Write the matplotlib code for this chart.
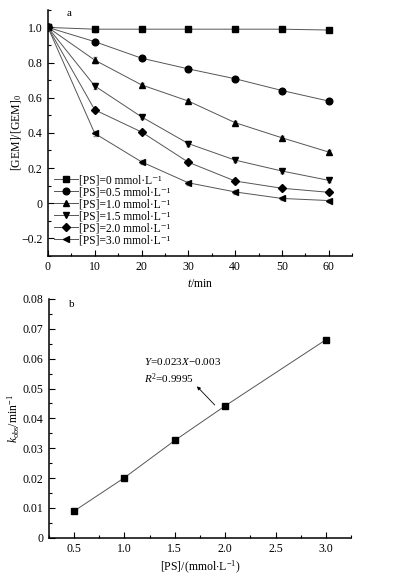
import numpy as np
import matplotlib
matplotlib.use("Agg")
import matplotlib.pyplot as plt
from matplotlib.ticker import MultipleLocator

plt.rcParams['font.family'] = ['Liberation Serif', 'DejaVu Serif']
plt.rcParams['mathtext.fontset'] = 'custom'
plt.rcParams['mathtext.rm'] = 'Liberation Serif'
plt.rcParams['mathtext.it'] = 'Liberation Serif:italic'
plt.rcParams['font.size'] = 7.5

# ---- panel a: degradation curves ----
t_min = [0, 10, 20, 30, 40, 50, 60]
ps_labels = ['0', '0.5', '1.0', '1.5', '2.0', '3.0']
ps_markers = ['s', 'o', '^', 'v', 'D', '<']
gem_0 = [1.0, 0.99, 0.99, 0.99, 0.99, 0.99, 0.985]
gem_05 = [1.0, 0.919, 0.825, 0.764, 0.708, 0.641, 0.581]
gem_10 = [1.0, 0.814, 0.673, 0.581, 0.458, 0.372, 0.291]
gem_15 = [1.0, 0.667, 0.491, 0.339, 0.245, 0.183, 0.130]
gem_20 = [1.0, 0.531, 0.405, 0.233, 0.126, 0.085, 0.062]
gem_30 = [1.0, 0.397, 0.235, 0.116, 0.064, 0.027, 0.015]
gem_err = [0.01, 0.015, 0.012, 0.012, 0.012, 0.01, 0.01]
series = [gem_0, gem_05, gem_10, gem_15, gem_20, gem_30]

# ---- panel b: k_obs vs [PS] ----
ps_conc = [0.5, 1.0, 1.5, 2.0, 3.0]
k_obs = [0.0089, 0.0201, 0.0326, 0.0442, 0.0664]

fig = plt.figure(figsize=(3.93, 5.79), dpi=100)
ax1 = fig.add_axes([0.122, 0.558, 0.774, 0.425])
ax2 = fig.add_axes([0.124, 0.0713, 0.770, 0.4123])

line_col = '#555555'
for vals, lab, mk in zip(series, ps_labels, ps_markers):
    ms = 4.2 if mk in ('s', 'D') else 4.8
    ax1.errorbar(t_min, vals, yerr=gem_err, fmt='none',
                 ecolor='#888888', elinewidth=0.6, capsize=1.5)
    ax1.plot(t_min, vals, color=line_col, lw=0.7,
             marker=mk, ms=ms, mfc='black', mec='black',
             label='[PS]=' + lab + ' mmol\u00b7L\u207b\u00b9')

ax1.set_xlim(0, 65)
ax1.set_ylim(-0.3, 1.1)
ax1.xaxis.set_major_locator(MultipleLocator(10))
ax1.xaxis.set_minor_locator(MultipleLocator(5))
ax1.yaxis.set_minor_locator(MultipleLocator(0.1))
ax1.set_yticks([-0.2, 0, 0.2, 0.4, 0.6, 0.8, 1.0])
ax1.set_yticklabels(['\u22120.2', '0', '0.2', '0.4', '0.6', '0.8', '1.0'])
ax1.set_xlabel(r'$t$/min', labelpad=3)
ax1.set_ylabel(r'[GEM]/[GEM]$_0$', labelpad=-2)
ax1.text(0.062, 0.985, 'a', transform=ax1.transAxes, fontsize=8, va='center')
leg = ax1.legend(loc='lower left', bbox_to_anchor=(0.005, 0.02), frameon=False,
                 handlelength=2.1, handletextpad=0.1, labelspacing=0.0,
                 borderpad=0.2, borderaxespad=0.2, fontsize=8.3)

ax2.plot(ps_conc, k_obs, color=line_col, lw=0.7, marker='s', ms=4.2,
         mfc='black', mec='black')
ax2.set_xlim(0.25, 3.25)
ax2.set_ylim(0, 0.08)
ax2.xaxis.set_major_locator(MultipleLocator(0.5))
ax2.xaxis.set_minor_locator(MultipleLocator(0.25))
ax2.yaxis.set_minor_locator(MultipleLocator(0.005))
ax2.set_yticks(np.arange(0, 0.081, 0.01))
ax2.set_yticklabels(['0'] + ['%.2f' % v for v in np.arange(0.01, 0.081, 0.01)])
ax2.set_xlabel(r'[PS]/(mmol$\cdot$L$^{-1}$)', labelpad=3)
ax2.set_ylabel(r'$k_{\rm obs}$/min$^{-1}$', labelpad=0)
ax2.text(0.068, 0.975, 'b', transform=ax2.transAxes, fontsize=8, va='center')
ax2.text(1.195, 0.0590, '$Y$=0.023$X$\u22120.003', fontsize=8, va='center')
ax2.text(1.195, 0.0532, '$R^2$=0.9995', fontsize=8, va='center')
ax2.annotate('', xy=(1.70, 0.0514), xytext=(1.915, 0.0438),
             arrowprops=dict(arrowstyle='-|>', color='black', lw=0.6,
                             mutation_scale=5))

for ax in (ax1, ax2):
    ax.spines['top'].set_visible(False)
    ax.spines['right'].set_visible(False)
    ax.spines['left'].set_linewidth(1.1)
    ax.spines['bottom'].set_linewidth(1.1)
    ax.tick_params(which='major', direction='in', length=4, width=0.8,
                   labelsize=8.5, pad=4)
    ax.tick_params(which='minor', direction='in', length=2.2, width=0.8)
    ax.xaxis.label.set_size(8.5)
    ax.yaxis.label.set_size(8.5)

fig.savefig('out.png', dpi=100)
